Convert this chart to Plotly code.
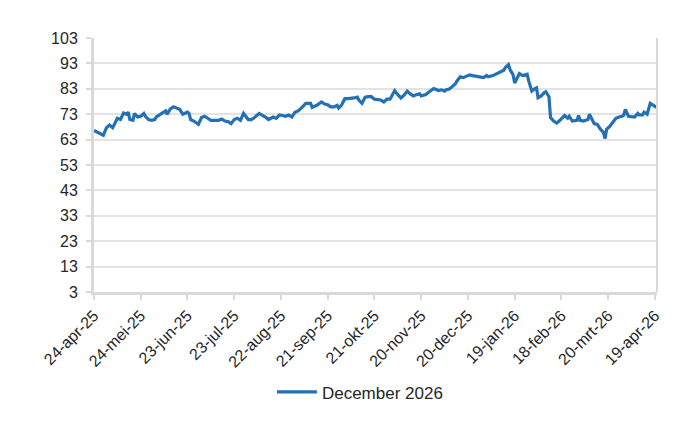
import pandas as pd
import plotly.graph_objects as go

start_date = "2025-04-24"
series_name = "December 2026"

# days since 24-apr-25
day_offsets = [
    0, 3, 6, 8, 10, 12, 14, 15, 17, 19, 21, 22, 23, 25, 26, 28, 30, 32, 33, 35,
    37, 39, 40, 42, 44, 46, 47, 49, 51, 53, 55, 57, 59, 60, 61, 62, 64, 67, 69, 71,
    73, 75, 78, 80, 82, 84, 86, 88, 90, 92, 94, 96, 97, 99, 101, 103, 106, 108, 110, 112,
    114, 115, 117, 119, 121, 123, 125, 127, 129, 131, 133, 135, 136, 139, 140, 143, 145, 146, 148, 150,
    152, 154, 156, 157, 159, 161, 163, 165, 167, 169, 170, 172, 174, 176, 178, 180, 182, 184, 186, 188,
    190, 191, 193, 195, 197, 199, 201, 203, 205, 207, 209, 210, 213, 214, 216, 218, 220, 221, 223, 225,
    226, 228, 230, 232, 233, 235, 237, 239, 241, 243, 246, 248, 250, 252, 253, 256, 257, 259, 261, 263,
    264, 266, 267, 269, 270, 272, 273, 275, 277, 278, 279, 281, 283, 284, 285, 287, 289, 290, 292, 293,
    295, 297, 299, 300, 302, 304, 305, 307, 308, 310, 311, 312, 314, 316, 317, 318, 320, 321, 323, 325,
    327, 328, 329, 331, 333, 335, 337, 339, 340, 341, 343, 345, 347, 349, 350, 352, 353, 355, 356, 357,
    359, 361,
]

prices = [
    66.6, 65.8, 64.7, 67.7, 68.7, 67.7, 70.6, 71.4, 70.9, 73.5, 73.0, 73.8, 70.9, 70.6, 73.3, 71.9, 72.2, 73.3, 72.2, 70.9,
    70.6, 70.9, 71.9, 72.7, 73.5, 74.3, 73.0, 75.1, 75.9, 75.4, 74.9, 73.0, 73.5, 73.8, 73.3, 70.9, 70.3, 69.0, 71.7, 72.2,
    71.4, 70.6, 70.6, 70.6, 71.1, 70.3, 70.1, 69.3, 70.9, 71.4, 70.6, 73.3, 72.5, 70.9, 70.9, 71.7, 73.3, 72.7, 71.9, 70.9,
    71.4, 71.9, 71.4, 72.7, 72.5, 72.2, 72.7, 71.9, 73.8, 74.3, 75.4, 76.5, 77.3, 77.3, 75.7, 76.5, 77.3, 77.8, 77.0, 76.7,
    75.9, 75.9, 76.5, 75.4, 76.7, 79.1, 79.1, 79.1, 79.4, 79.7, 78.6, 77.3, 79.7, 79.9, 79.9, 78.9, 78.6, 78.6, 77.8, 78.9,
    78.9, 80.2, 82.3, 80.7, 79.4, 80.5, 82.1, 81.0, 80.2, 80.7, 81.0, 80.2, 80.7, 81.3, 82.1, 83.1, 82.6, 82.3, 82.6, 82.1,
    82.6, 82.9, 83.9, 85.0, 86.1, 87.7, 87.4, 87.9, 88.5, 88.2, 87.9, 87.7, 87.4, 88.2, 87.7, 88.2, 88.5, 89.3, 89.8, 90.3,
    91.4, 92.5, 90.6, 88.5, 85.3, 87.9, 89.0, 88.2, 88.5, 88.7, 86.1, 82.1, 83.1, 83.4, 79.5, 80.2, 81.5, 81.8, 79.9, 71.7,
    70.3, 69.5, 70.6, 71.4, 72.5, 71.4, 72.2, 70.3, 70.3, 70.6, 72.5, 70.6, 70.3, 70.6, 70.9, 73.0, 70.9, 69.3, 69.0, 67.1,
    65.8, 63.4, 67.1, 68.2, 69.8, 71.4, 71.9, 72.2, 72.7, 74.9, 72.2, 71.9, 71.9, 73.3, 72.7, 72.7, 73.8, 73.0, 75.4, 77.3,
    76.5, 75.7,
]

tick_dates = [
    "2025-04-24", "2025-05-24", "2025-06-23", "2025-07-23", "2025-08-22", "2025-09-21",
    "2025-10-21", "2025-11-20", "2025-12-20", "2026-01-19", "2026-02-18", "2026-03-20", "2026-04-19",
]
tick_labels = [
    "24-apr-25", "24-mei-25", "23-jun-25", "23-jul-25", "22-aug-25", "21-sep-25",
    "21-okt-25", "20-nov-25", "20-dec-25", "19-jan-26", "18-feb-26", "20-mrt-26", "19-apr-26",
]
y_ticks = [3, 13, 23, 33, 43, 53, 63, 73, 83, 93, 103]

dates = pd.Timestamp(start_date) + pd.to_timedelta(day_offsets, unit="D")

axis_grey = "#d9d9d9"
font_family = "Liberation Sans, Arial, sans-serif"

fig = go.Figure()
fig.add_trace(go.Scatter(
    x=dates, y=prices, mode="lines", name=series_name,
    line=dict(color="#2371b4", width=3.2),
))

# the page body adds an 8px offset, so margins are reduced accordingly
fig.update_layout(
    width=700, height=430,
    margin=dict(l=86, r=51, t=30, b=146, autoexpand=False),
    paper_bgcolor="white", plot_bgcolor="white",
    font=dict(family=font_family, size=16, color="#262626"),
    showlegend=True,
    legend=dict(
        orientation="h", x=0.316, xanchor="left", y=-0.395, yanchor="middle",
        font=dict(size=17, color="#262626"), itemwidth=40,
    ),
)

fig.update_xaxes(
    type="date", automargin=False,
    range=["2025-04-24", "2026-04-20 08:00"],
    tickmode="array", tickvals=tick_dates, ticktext=tick_labels,
    tickangle=-45, tickfont=dict(size=16),
    showgrid=False, zeroline=False,
    showline=True, linecolor=axis_grey, linewidth=3,
    ticks="outside", ticklen=5, tickwidth=2, tickcolor=axis_grey,
)
fig.update_yaxes(
    automargin=False,
    range=[3, 103],
    tickmode="array", tickvals=y_ticks,
    tickfont=dict(size=16),
    showgrid=True, gridcolor="#e3e3e3", gridwidth=1.5,
    zeroline=False,
    showline=True, linecolor=axis_grey, linewidth=3,
    ticks="outside", ticklen=5, tickwidth=2, tickcolor=axis_grey,
    ticklabelstandoff=5,
)

fig.add_shape(
    type="line", xref="paper", yref="paper", x0=1, x1=1, y0=0, y1=1,
    line=dict(color=axis_grey, width=2),
)

fig.write_html("out.html")
